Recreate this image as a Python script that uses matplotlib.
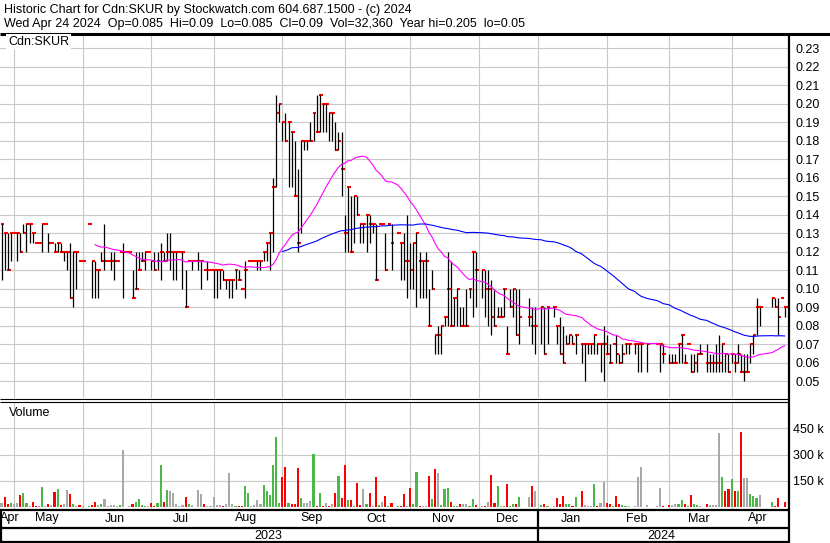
import numpy as np
import pandas as pd
import matplotlib
matplotlib.use("Agg")
import matplotlib.pyplot as plt
from matplotlib.lines import Line2D

plt.rcParams['font.family'] = ['Liberation Sans', 'DejaVu Sans']

# ---------------- data ----------------
ticker = "Cdn:SKUR"
title_line1 = "Historic Chart for Cdn:SKUR by Stockwatch.com 604.687.1500 - (c) 2024"
title_line2 = ("Wed Apr 24 2024  Op=0.085  Hi=0.09  Lo=0.085  Cl=0.09  "
               "Vol=32,360  Year hi=0.205  lo=0.05")
start_date = "2023-04-25"
end_date = "2024-04-24"
holidays = ["2023-05-22", "2023-07-03", "2023-08-07", "2023-09-04", "2023-10-09",
            "2023-12-25", "2023-12-26", "2024-01-01", "2024-02-19", "2024-03-29"]
price_ticks = [0.05, 0.06, 0.07, 0.08, 0.09, 0.10, 0.11, 0.12, 0.13, 0.14,
               0.15, 0.16, 0.17, 0.18, 0.19, 0.20, 0.21, 0.22, 0.23]
volume_ticks = [150, 300, 450]
volume_tick_labels = ["150 k", "300 k", "450 k"]
N = None  # no trade that day

high = [.135, .13, .13, .13, .13, .13, .13, .135, .135, .135, .13, .125, .125, .135, .135, .13, .125, .125, .125, .125,
        .12, .12, .125, .12, .12, .115, .115, N, .135, .115, .115, .11, .12, .135, .115, .12, .12, .115, .12, .125,
        .12, .12, .11, .12, .12, .12, .12, .12, .115, .12, .12, .125, .12, .13, .13, .12, .12, .12, .12, .11,
        .115, .115, .115, .12, .115, .11, .115, .11, .11, .11, .11, .11, .105, .105, .105, .11, .11, .10, .115, .115,
        .115, .115, .115, .115, .12, .125, .13, .16, .205, .20, .19, .195, .19, .185, .18, .165, .18, .18, .18, .19,
        .195, .205, .205, .20, .20, .195, .195, .19, .185, .185, .14, .155, .15, .15, .15, .135, .135, .14, .14, .135,
        .135, .135, .135, .13, .135, .135, N, .13, .125, .13, .14, .125, .125, .13, .12, .115, .12, .10, .11, .075,
        .08, .08, .085, .12, .115, .095, .10, .09, .09, .10, .10, .12, .12, N, .11, .11, .11, .105, .10, .09,
        .09, .10, .08, .10, .10, .10, .10, N, N, .095, .09, .09, N, .09, .09, .09, N, .09, .08, .085,
        .08, .075, .075, .075, .075, N, .07, .07, .07, .07, .075, .07, .07, .08, .075, .07, .07, .075, .065, .07,
        .07, .07, N, .07, .07, .07, N, .07, N, N, .07, .07, .07, N, .065, .065, .065, .07, .075, .065,
        .07, .065, .065, .065, .07, N, .07, .065, .065, .07, .075, .07, .065, .065, .065, .065, .07, .065, .065, .065,
        .07, .075, .095, .09, N, N, N, .095, .095, .095, .095, .09]
low = [.105, .11, .11, .115, .13, .115, .12, .13, .12, .125, .125, .125, .125, .12, .135, .12, .125, .12, .12, .12,
       .115, .11, .095, .09, .10, .115, .115, N, .135, .095, .095, .095, .115, .11, .115, .11, .105, .115, .12, .095,
       .12, .12, .095, .10, .11, .115, .11, .12, .11, .11, .11, .105, .115, .115, .11, .105, .105, .12, .10, .09,
       .115, .11, .115, .11, .10, .11, .105, .11, .095, .095, .10, .105, .10, .095, .095, .10, .105, .10, .095, .115,
       .115, .115, .11, .11, .115, .115, .11, .12, .155, .19, .18, .18, .155, .155, .15, .12, .13, .175, .175, .18,
       .18, .185, .185, .185, .185, .18, .18, .175, .175, .15, .12, .12, .12, .125, .14, .125, .125, .12, .125, .13,
       .105, .135, .135, .11, .135, .11, N, .13, .105, .105, .095, .10, .10, .09, .095, .095, .095, .08, .10, .065,
       .065, .065, .08, .08, .08, .08, .08, .08, .08, .08, .095, .085, .09, N, .095, .085, .08, .075, .08, .085,
       .085, .085, .065, .09, .085, .075, .07, N, N, .08, .07, .065, N, .07, .065, .07, N, .085, .07, .065,
       .06, .07, .07, .07, .065, N, .06, .05, .065, .065, .065, .065, .055, .05, .065, .06, .07, .06, .06, .06,
       .065, .065, N, .065, .055, .055, N, .055, N, N, .07, .055, .06, N, .06, .06, .06, .06, .06, .06,
       .07, .055, .055, .055, .065, N, .055, .055, .055, .055, .055, .055, .055, .055, .06, .055, .06, .055, .05, .055,
       .06, .065, .075, .08, N, N, N, .09, .09, .075, .095, .085]
close = [.135, .13, .11, .13, .13, .13, .12, .13, .135, .135, .13, .125, .125, .135, .135, .125, .125, .12, .125, .12,
         .12, .12, .095, .12, .12, .115, .115, N, .135, .115, .11, .11, .115, .115, .115, .115, .115, .115, .12, .12,
         .12, .12, .095, .10, .11, .115, .12, .12, .115, .11, .115, .12, .115, .12, .12, .12, .12, .12, .12, .09,
         .115, .115, .115, .115, .115, .11, .11, .11, .11, .11, .11, .105, .105, .105, .105, .11, .105, .10, .11, .115,
         .115, .115, .115, .115, .12, .125, .13, .155, .195, .20, .19, .18, .19, .185, .15, .125, .18, .18, .18, .18,
         .195, .185, .205, .20, .20, .195, .195, .175, .18, .165, .13, .155, .12, .15, .14, .135, .135, .14, .135, .135,
         .105, .135, .135, .11, .135, .125, N, .13, .125, .115, .115, .11, .125, .13, .115, .115, .115, .08, .10, .075,
         .075, .08, .085, .10, .08, .095, .10, .08, .08, .08, .10, .12, .11, N, .11, .10, .10, .085, .08, .085,
         .085, .10, .065, .09, .10, .075, .085, N, N, .085, .08, .08, N, .09, .065, .09, N, .09, .08, .065,
         .06, .07, .075, .07, .075, N, .07, .07, .07, .07, .075, .07, .07, .07, .065, .06, .07, .065, .06, .065,
         .07, .07, N, .07, .07, .07, N, .07, N, N, .07, .07, .065, N, .06, .06, .06, .07, .075, .06,
         .07, .055, .06, .065, .065, N, .06, .06, .06, .06, .06, .07, .065, .055, .065, .06, .065, .055, .055, .055,
         .07, .075, .09, .09, N, N, N, .095, .09, .085, .095, .09]
volume_k = [25, 58, 20, 25, 20, 25, 70, 78, 25, 5, 30, 5, 5, 112, 5, 15, 10, 84, 105, 10,
            20, 99, 75, 20, 5, 10, 3, 0, 3, 10, 30, 10, 20, 45, 5, 10, 10, 5, 10, 326,
            0, 5, 20, 30, 45, 10, 5, 5, 25, 5, 25, 240, 30, 99, 94, 78, 20, 5, 10, 58,
            15, 10, 2, 99, 75, 20, 5, 5, 58, 10, 10, 5, 15, 195, 20, 5, 5, 5, 122, 80,
            3, 10, 40, 15, 127, 94, 70, 240, 400, 25, 174, 230, 25, 20, 20, 225, 52, 25, 25, 35,
            303, 5, 78, 5, 25, 5, 15, 78, 178, 54, 240, 40, 40, 5, 136, 10, 105, 20, 78, 5,
            173, 10, 30, 63, 5, 25, 0, 5, 5, 75, 5, 110, 15, 199, 5, 5, 5, 178, 47, 220,
            194, 10, 105, 110, 31, 5, 5, 15, 15, 15, 5, 47, 10, 0, 5, 5, 31, 183, 25, 122,
            5, 5, 131, 5, 15, 15, 59, 0, 0, 59, 122, 91, 0, 10, 15, 5, 0, 5, 52, 15,
            64, 15, 15, 5, 59, 0, 91, 10, 5, 5, 131, 5, 25, 143, 25, 20, 5, 64, 15, 10,
            5, 3, 0, 3, 173, 227, 0, 10, 0, 0, 3, 110, 5, 0, 10, 10, 15, 20, 42, 15,
            5, 70, 15, 10, 3, 0, 15, 10, 10, 10, 422, 173, 91, 105, 162, 94, 94, 429, 167, 167,
            73, 64, 52, 70, 0, 0, 0, 28, 5, 52, 2, 31]
ma_short, ma_long = 30, 90

# ---------------- layout helpers ----------------
W, HP = 830, 543
fig = plt.figure(figsize=(W / 100, HP / 100), dpi=100)


def box(x0, y0, x1, y1):
    return [x0 / W, 1 - y1 / HP, (x1 - x0) / W, (y1 - y0) / HP]


def hline(y, x0, x1, lw):
    fig.add_artist(Line2D([x0 / W, x1 / W], [1 - y / HP] * 2, color='black', lw=lw,
                          solid_capstyle='butt'))


def vline(x, y0, y1, lw):
    fig.add_artist(Line2D([x / W] * 2, [1 - y0 / HP, 1 - y1 / HP], color='black', lw=lw,
                          solid_capstyle='butt'))


dates = pd.bdate_range(start_date, end_date)
dates = dates[~dates.isin(pd.to_datetime(holidays))]
n = len(dates)
idx = np.arange(n)
H = np.array(high, dtype=float)
L = np.array(low, dtype=float)
C = np.array(close, dtype=float)
V = np.array(volume_k, dtype=float)
traded = ~np.isnan(C)

prev = pd.Series(C).ffill().shift(1).values
diff = C - prev
GREEN, RED, GRAY = '#4cb848', '#ff0000', '#a8a8a8'
vcol = np.where(diff > 1e-9, GREEN, np.where(diff < -1e-9, RED, GRAY))

cs = pd.Series(C[traded], index=idx[traded])
ma_s = cs.rolling(ma_short).mean()
ma_l = cs.rolling(ma_long).mean()

periods = dates.to_period('M')
grp = pd.Series(idx).groupby(np.asarray(periods))
first = grp.min()
last = grp.max()
month_names = [p.strftime('%b') for p in first.index]
years = pd.Series(idx).groupby(dates.year)

px_per_bar = 3.12
xlim = (-1.5 / px_per_bar, (789 - 1.5) / px_per_bar)
gridcol = '#c8c8c8'
FS = 9

# ---------------- price panel ----------------
axp = fig.add_axes(box(0, 35, 789, 398))
axp.set_xlim(*xlim)
axp.set_ylim(0.23 - (398 - 48.3) / 1850, 0.23 + (48.3 - 35) / 1850)
for s in axp.spines.values():
    s.set_visible(False)
axp.set_xticks([])
axp.yaxis.tick_right()
axp.set_yticks(price_ticks)
axp.set_yticklabels([f"{t:.2f}" for t in price_ticks])
axp.tick_params(axis='y', length=0, pad=4.5, labelsize=FS)
for t in price_ticks:
    axp.axhline(t, color=gridcol, lw=0.8, zorder=0)
for f in first.values[1:]:
    axp.axvline(f, color=gridcol, lw=0.8, zorder=0)
axp.hlines(C[traded], idx[traded] - 0.15, idx[traded] + 0.95, color='red', lw=1.5, zorder=2)
axp.vlines(idx[traded], L[traded], H[traded], color='black', lw=0.9, zorder=3)
axp.plot(ma_s.index, ma_s.values, color='#ff00ff', lw=0.8, zorder=4)
axp.plot(ma_l.index, ma_l.values, color='#0000ff', lw=0.8, zorder=4)
fig.text(8 / W, 1 - 42 / HP, ticker, fontsize=FS, va='center', ha='left',
         bbox=dict(facecolor='white', edgecolor='none', pad=1.5))

# ---------------- volume panel ----------------
axv = fig.add_axes(box(0, 402, 789, 509))
axv.set_xlim(*xlim)
axv.set_ylim(-2 / 0.1749, (507 - 402) / 0.1749)
for s in axv.spines.values():
    s.set_visible(False)
axv.set_xticks([])
axv.yaxis.tick_right()
axv.set_yticks(volume_ticks)
axv.set_yticklabels(volume_tick_labels)
axv.tick_params(axis='y', length=0, pad=3, labelsize=FS)
for t in volume_ticks:
    axv.axhline(t, color=gridcol, lw=0.8, zorder=0)
for f in first.values[1:]:
    axv.axvline(f, color=gridcol, lw=0.8, zorder=0)
axv.bar(idx, V, width=0.68, color=vcol, zorder=2)
fig.text(9 / W, 1 - 413 / HP, "Volume", fontsize=FS, va='center', ha='left')

# ---------------- month / year rows ----------------
axm = fig.add_axes(box(0, 510, 789, 527))
axm.set_xlim(*xlim)
axm.set_ylim(0, 1)
axm.axis('off')
for k, (name, a, b) in enumerate(zip(month_names, first.values, last.values)):
    if k == 0 and (b - a) < 6:
        # the first, partial month is too short for a centred label: keep it inside the row
        axm.text(xlim[0] + 0.1, 0.5, name, ha='left', va='center', fontsize=FS)
    else:
        axm.text((a + b) / 2, 0.5, name, ha='center', va='center', fontsize=FS)

axy = fig.add_axes(box(0, 528, 789, 542))
axy.set_xlim(*xlim)
axy.set_ylim(0, 1)
axy.axis('off')
for yr, g in years:
    axy.text((g.min() + g.max()) / 2, 0.45, str(yr), ha='center', va='center', fontsize=FS)
jan_idx = first.values[[i for i, p in enumerate(first.index) if p.month == 1][0]]
for a in (axm, axy):
    a.axvline(jan_idx, color='black', lw=1.6)

# ---------------- frame lines ----------------
hline(33.5, 0, 830, 2.2)
hline(398.5, 0, 789, 0.8)
hline(401.5, 0, 789, 0.8)
hline(509.5, 0, 789, 1.6)
hline(527.5, 0, 789, 1.6)
hline(541.5, 0, 789, 1.6)
vline(789, 33, 543, 1.6)
vline(0.7, 509, 542, 1.6)

# ---------------- header ----------------
fig.text(4 / W, 1 - 9.5 / HP, title_line1, fontsize=FS, va='center', ha='left')
fig.text(4 / W, 1 - 24 / HP, title_line2, fontsize=FS, va='center', ha='left')

fig.savefig("out.png", dpi=100)
